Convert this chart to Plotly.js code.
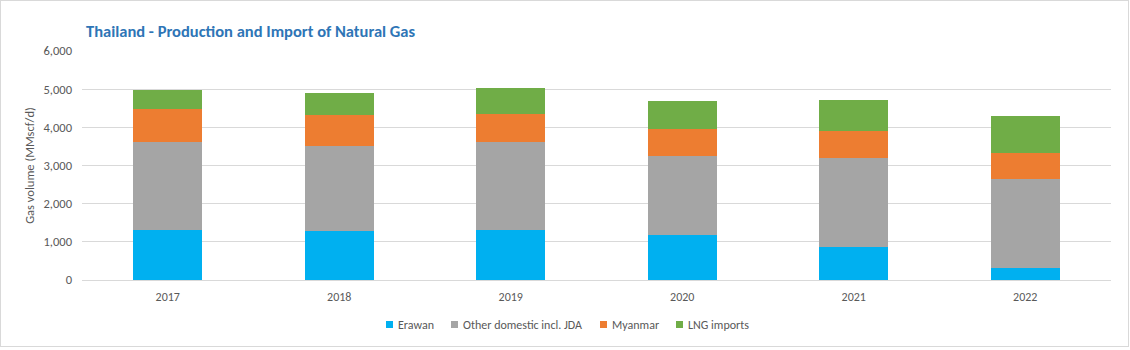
<!DOCTYPE html>
<html><head><meta charset="utf-8">
<script src="https://cdn.plot.ly/plotly-3.0.1.min.js"></script>
<style>body{margin:0;padding:0;background:#fff}#wrap{position:relative;width:1130px;height:350px}#b{position:absolute;left:0;top:0;width:1127px;height:345px;border:1px solid #d9d9d9;pointer-events:none}</style>
</head><body><div id="wrap"><div id="chart" style="width:1130px;height:350px"></div><div id="b"></div></div>
<script>
const years = ['2017','2018','2019','2020','2021','2022'];
const erawan = [1310, 1285, 1310, 1180, 865, 315];
const otherDomestic = [2307, 2236, 2306, 2070, 2333, 2332];
const myanmar = [865, 804, 743, 708, 708, 682];
const lngImports = [498, 577, 674, 734, 812, 970];
const seriesNames = ['Erawan', 'Other domestic incl. JDA', 'Myanmar', 'LNG imports'];
const colors = ['#00B0F0', '#A5A5A5', '#ED7D31', '#70AD47'];
const data = [erawan, otherDomestic, myanmar, lngImports].map((v, i) => ({
  type: 'bar', x: years, y: v, name: seriesNames[i],
  marker: {color: colors[i], line: {width: 0}}, showlegend: false
}));
const font = "Calibri, Carlito, Lato, 'Open Sans', sans-serif";
const W = 1130, H = 350, M = {l: 82, r: 19, t: 51, b: 70};
const pw = W - M.l - M.r, ph = H - M.t - M.b;
// custom legend layout (pixel positions of swatches)
const legendSwatchX = [386, 451, 600, 676];
const legendY = 324.5;
const shapes = [], annotations = [];
seriesNames.forEach((n, i) => {
  const x0 = (legendSwatchX[i] - M.l) / pw, x1 = (legendSwatchX[i] + 7 - M.l) / pw;
  const y0 = (H - M.b - (legendY + 3.5)) / ph, y1 = (H - M.b - (legendY - 3.5)) / ph;
  shapes.push({type: 'rect', xref: 'paper', yref: 'paper', x0, x1, y0, y1, fillcolor: colors[i], line: {width: 0}});
  annotations.push({xref: 'paper', yref: 'paper', x: (legendSwatchX[i] + 9.5 - M.l) / pw, y: (H - M.b - legendY) / ph,
    xanchor: 'left', yanchor: 'middle', text: n, showarrow: false, font: {size: 12, color: '#595959'}});
});
const layout = {
  width: W, height: H, barmode: 'stack', bargap: 0.6,
  margin: M,
  paper_bgcolor: '#fff', plot_bgcolor: '#fff',
  font: {family: font, size: 12, color: '#595959'},
  title: {text: '<b>Thailand - Production and Import of Natural Gas</b>', x: 86/W, xanchor: 'left', y: 1 - 31/H, yanchor: 'middle',
    font: {family: font, size: 16.5, color: '#2E75B6'}},
  xaxis: {type: 'category', showgrid: false, showline: false, ticks: '', automargin: false, ticklabelstandoff: 8,
    tickfont: {size: 12, color: '#595959'}},
  yaxis: {range: [0, 6000], dtick: 1000, tickformat: ',', showgrid: true, gridcolor: '#d9d9d9', gridwidth: 1, automargin: false,
    zeroline: true, zerolinecolor: '#d9d9d9', showline: false, ticks: '', ticklen: 0, ticklabelstandoff: 9,
    tickfont: {size: 12.5, color: '#595959'},
    title: {text: 'Gas volume (MMscf/d)', font: {size: 12.5, color: '#595959'}, standoff: 6}},
  shapes, annotations, showlegend: false
};
Plotly.newPlot('chart', data, layout, {displayModeBar: false, staticPlot: true});
</script></body></html>
